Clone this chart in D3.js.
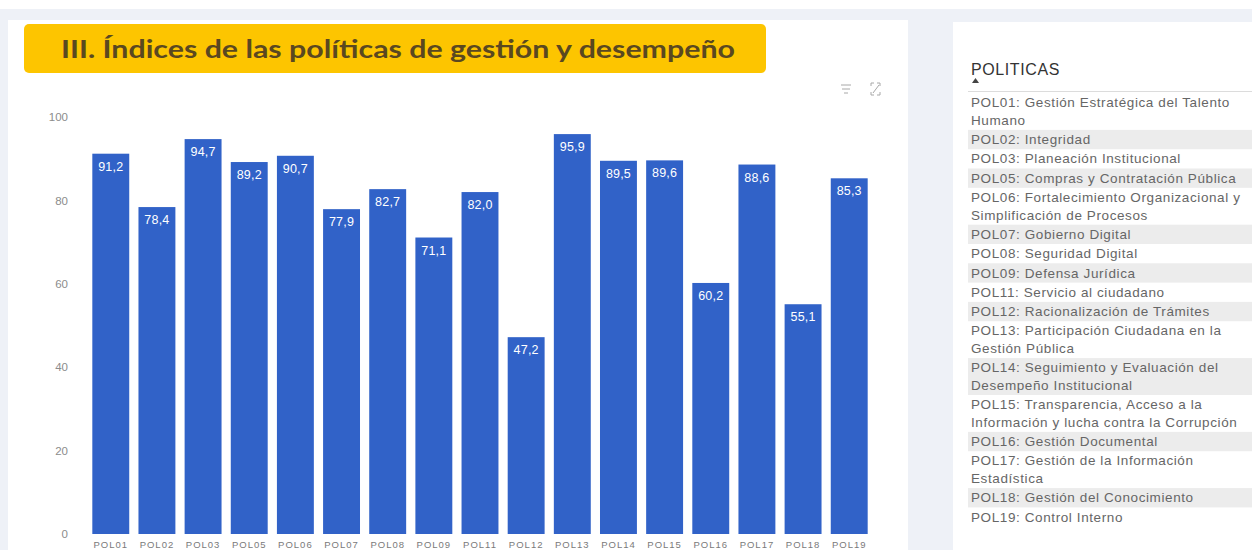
<!DOCTYPE html>
<html><head><meta charset="utf-8">
<script src="https://cdn.jsdelivr.net/npm/d3@7"></script>
<style>
html,body{margin:0;padding:0;background:#eef1f7;overflow:hidden}
svg{display:block}
</style>
</head><body>
<svg id="c" width="1252" height="550"></svg>
<script>
// ---------- data ----------
const categories = ["POL01","POL02","POL03","POL05","POL06","POL07","POL08","POL09","POL11","POL12","POL13","POL14","POL15","POL16","POL17","POL18","POL19"];
const values = [91.2,78.4,94.7,89.2,90.7,77.9,82.7,71.1,82.0,47.2,95.9,89.5,89.6,60.2,88.6,55.1,85.3];
const yTicks = [0,20,40,60,80,100];
const title = "III. Índices de las políticas de gestión y desempeño";
const listTitle = "POLITICAS";
const policyNames = [
  "POL01: Gestión Estratégica del Talento Humano",
  "POL02: Integridad",
  "POL03: Planeación Institucional",
  "POL05: Compras y Contratación Pública",
  "POL06: Fortalecimiento Organizacional y Simplificación de Procesos",
  "POL07: Gobierno Digital",
  "POL08: Seguridad Digital",
  "POL09: Defensa Jurídica",
  "POL11: Servicio al ciudadano",
  "POL12: Racionalización de Trámites",
  "POL13: Participación Ciudadana en la Gestión Pública",
  "POL14: Seguimiento y Evaluación del Desempeño Institucional",
  "POL15: Transparencia, Acceso a la Información y lucha contra la Corrupción",
  "POL16: Gestión Documental",
  "POL17: Gestión de la Información Estadística",
  "POL18: Gestión del Conocimiento",
  "POL19: Control Interno"
];

// ---------- setup ----------
const svg = d3.select("#c");
const locale = d3.formatLocale({decimal:",", thousands:".", grouping:[3], currency:["$",""]});
const fmt = locale.format(".1f");

// page pieces
svg.append("rect").attr("x",0).attr("y",0).attr("width",1252).attr("height",9).attr("fill","#ffffff");
svg.append("rect").attr("x",8).attr("y",20).attr("width",900).attr("height",540).attr("fill","#ffffff");
svg.append("rect").attr("x",953).attr("y",22).attr("width",310).attr("height",540).attr("fill","#ffffff");

// title box
svg.append("rect").attr("x",24).attr("y",24).attr("width",742).attr("height",49).attr("rx",5)
  .attr("fill","#fdc500");
svg.append("text").attr("x",61).attr("y",58)
  .attr("font-family","Lato, 'Open Sans', sans-serif").attr("font-weight",700)
  .attr("font-size",24.5).attr("fill","#5a4820")
  .attr("textLength",674).attr("lengthAdjust","spacingAndGlyphs")
  .text(title);

// icons
const ic = svg.append("g").attr("stroke","#a8a8a8").attr("stroke-width",1).attr("fill","none");
[[841,851,85],[842,850,89],[844,848,93]].forEach(d=>ic.append("line").attr("x1",d[0]).attr("x2",d[1]).attr("y1",d[2]).attr("y2",d[2]));
ic.append("path").attr("d","M871,86 v-3 h3 M877,83 h3 v3 M880,92 v3 h-3 M874,95 h-3 v-3 M873,93 l6,-8");

// ---------- chart ----------
const x = d3.scaleBand().domain(categories).range([87.7, 872.3]).paddingInner(0.2).paddingOuter(0.1);
const y = d3.scaleLinear().domain([0,100]).range([534,117]);

const yAxis = svg.append("g").attr("transform","translate(68,0)")
  .call(d3.axisLeft(y).tickValues(yTicks).tickSize(0).tickPadding(0));
yAxis.select(".domain").remove();
yAxis.selectAll("text").attr("font-family","'Liberation Sans', Arial, sans-serif").attr("font-size",11.5).attr("fill","#8c8c8c");

const xAxis = svg.append("g").attr("transform","translate(0,534)")
  .call(d3.axisBottom(x).tickSize(0).tickPadding(7));
xAxis.select(".domain").remove();
xAxis.selectAll("text").attr("font-family","'Liberation Sans', Arial, sans-serif").attr("font-size",9.5)
  .attr("letter-spacing","1px").attr("fill","#7a7a7a");

const data = categories.map((c,i)=>({c, v: values[i]}));
svg.append("g").selectAll("rect").data(data).join("rect")
  .attr("x",d=>x(d.c)).attr("width",x.bandwidth())
  .attr("y",d=>y(d.v)).attr("height",d=>y(0)-y(d.v))
  .attr("fill","#3162c8");
svg.append("g").selectAll("text").data(data).join("text")
  .attr("x",d=>x(d.c)+x.bandwidth()/2).attr("y",d=>y(d.v)+17)
  .attr("text-anchor","middle")
  .attr("font-family","'Liberation Sans', Arial, sans-serif").attr("font-size",12.5)
  .attr("letter-spacing","0.2px").attr("fill","#ffffff")
  .text(d=>fmt(d.v));

// ---------- list panel ----------
const lp = svg.append("g");
lp.append("text").attr("x",971).attr("y",75).attr("font-family","'Liberation Sans', Arial, sans-serif")
  .attr("font-size",16).attr("letter-spacing","0.6px").attr("fill","#333").text(listTitle);
lp.append("path").attr("d","M972,83 L975.5,78 L979,83 Z").attr("fill","#444");
lp.append("line").attr("x1",968).attr("x2",1252).attr("y1",91.5).attr("y2",91.5).attr("stroke","#dcdcdc");

const listFont = "'Liberation Sans', Arial, sans-serif";
const meas = svg.append("text").attr("font-family",listFont).attr("font-size",13.5).attr("letter-spacing","0.6px").attr("visibility","hidden");
function wrap(str, maxW){
  const words = str.split(" "); const lines=[]; let cur="";
  words.forEach(w=>{
    const t = cur ? cur+" "+w : w;
    meas.text(t);
    if (cur && meas.node().getComputedTextLength() > maxW){ lines.push(cur); cur=w; } else cur=t;
  });
  lines.push(cur); return lines;
}
const lineH = 17.6, pad = 1.7;
let rowTop = 93;
policyNames.forEach((name,i)=>{
  const lines = wrap(name, 280);
  const h = lines.length*lineH + pad;
  if (i%2===1) lp.append("rect").attr("x",968).attr("y",rowTop).attr("width",290).attr("height",h).attr("fill","#ececec");
  lines.forEach((ln,j)=>{
    lp.append("text").attr("x",971).attr("y",rowTop + pad/2 + j*lineH + lineH/2 + 4.6)
      .attr("font-family",listFont).attr("font-size",13.5).attr("letter-spacing","0.6px")
      .attr("fill","#666666").text(ln);
  });
  rowTop += h;
});
meas.remove();
</script>
</body></html>
